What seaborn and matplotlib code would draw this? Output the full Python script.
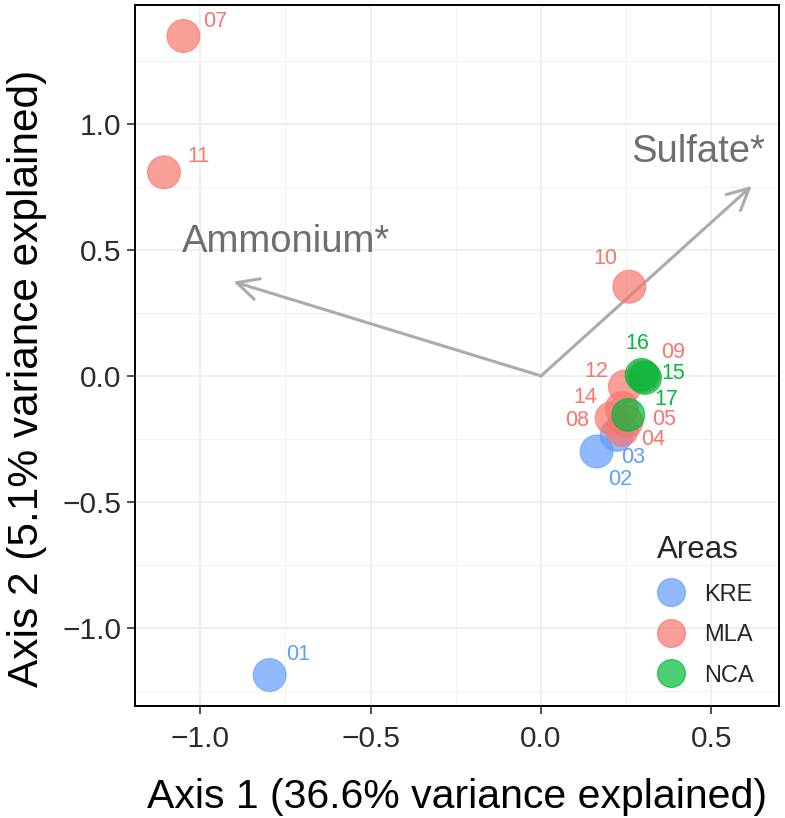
import numpy as np
import pandas as pd
import matplotlib
matplotlib.use("Agg")
import matplotlib.pyplot as plt
from matplotlib.ticker import MultipleLocator
from matplotlib.lines import Line2D
import seaborn as sns

# ---- data ----
samples = ["01", "02", "03", "04", "05", "07", "08", "09", "10", "11",
           "12", "14", "15", "16", "17"]
areas = ["KRE", "KRE", "KRE", "MLA", "MLA", "MLA", "MLA", "MLA", "MLA", "MLA",
         "MLA", "MLA", "NCA", "NCA", "NCA"]
axis1 = [-0.796, 0.163, 0.222, 0.237, 0.251, -1.049, 0.207, 0.300, 0.259, -1.106,
         0.246, 0.237, 0.305, 0.295, 0.256]
axis2 = [-1.187, -0.300, -0.234, -0.214, -0.181, 1.349, -0.168, -0.002, 0.354, 0.808,
         -0.042, -0.128, -0.008, 0.004, -0.155]
# label positions (repelled labels)
label_x = [-0.713, 0.232, 0.269, 0.329, 0.361, -0.956, 0.105, 0.388, 0.190, -1.006,
           0.163, 0.129, 0.388, 0.281, 0.367]
label_y = [-1.107, -0.413, -0.323, -0.251, -0.172, 1.406, -0.175, 0.093, 0.467, 0.869,
           0.017, -0.085, 0.011, 0.127, -0.092]

vectors = ["Ammonium*", "Sulfate*"]
vec_x = [-0.902, 0.618]
vec_y = [0.374, 0.754]
vec_label_x = [-0.748, 0.46]
vec_label_y = [0.533, 0.889]

area_levels = ["KRE", "MLA", "NCA"]
palette = {"KRE": "#619CFF", "MLA": "#F8766D", "NCA": "#00BA38"}

df = pd.DataFrame({"sample": samples, "Area": areas, "x": axis1, "y": axis2})

sns.set_style("white")
plt.rcParams["font.family"] = ["Liberation Sans", "DejaVu Sans"]

fig = plt.figure(figsize=(7.85, 8.18), dpi=100)
ax = fig.add_axes([135 / 785, 112 / 818, 644 / 785, 701 / 818])

# grid
ax.set_xlim(-1.191, 0.698)
ax.set_ylim(-1.31, 1.472)
ax.xaxis.set_major_locator(MultipleLocator(0.5))
ax.yaxis.set_major_locator(MultipleLocator(0.5))
ax.xaxis.set_minor_locator(MultipleLocator(0.25))
ax.yaxis.set_minor_locator(MultipleLocator(0.25))
ax.grid(which="major", color="#EBEBEB", lw=1.1, zorder=0)
ax.grid(which="minor", color="#F2F2F2", lw=0.7, zorder=0)
ax.set_axisbelow(True)

# arrows
for name, vx, vy, lx, ly in zip(vectors, vec_x, vec_y, vec_label_x, vec_label_y):
    ax.annotate("", xy=(vx, vy), xytext=(0, 0),
                arrowprops=dict(arrowstyle="->,head_length=0.7,head_width=0.35",
                                color="#ABABAB", lw=2.2, mutation_scale=22,
                                shrinkA=0, shrinkB=0), zorder=2)
    ax.text(lx, ly, name, color="#716D6D", fontsize=27.5, ha="center", va="center", zorder=3)

sns.scatterplot(data=df, x="x", y="y", hue="Area", hue_order=area_levels,
                palette=palette, s=560, alpha=0.7, linewidth=0.8, ax=ax,
                legend=False, zorder=4)
for coll in ax.collections:
    coll.set_edgecolor(coll.get_facecolor())

for s, a, lx, ly in zip(samples, areas, label_x, label_y):
    ax.text(lx, ly, s, color=palette[a], fontsize=15.5, ha="center", va="center", zorder=5)

# legend
handles = [Line2D([0], [0], marker="o", ls="", markersize=20,
                  markerfacecolor=palette[a], markeredgecolor=palette[a],
                  alpha=0.7) for a in area_levels]
leg = ax.legend(handles, area_levels, title="Areas", loc="lower right",
                bbox_to_anchor=(0.998, -0.006), frameon=False, fontsize=17,
                title_fontsize=22.5, labelspacing=0.78, handlelength=1.2,
                handletextpad=0.8, alignment="left", borderpad=0.5)

ax.set_xlabel("Axis 1 (36.6% variance explained)", fontsize=29.5, color="black", labelpad=18)
ax.set_ylabel("Axis 2 (5.1% variance explained)", fontsize=30.5, color="black")
ax.yaxis.set_label_coords(-0.137, 0.468)

ax.tick_params(which="major", direction="out", length=6, width=1.2, color="#333333",
               labelsize=21.5, labelcolor="#2B2B2B", bottom=True, left=True)
ax.tick_params(axis="x", pad=7.5)
ax.tick_params(axis="y", pad=4)
ax.tick_params(which="minor", length=0)
for sp in ax.spines.values():
    sp.set_color("black")
    sp.set_linewidth(1.4)

fig.savefig("out.png", dpi=100)
